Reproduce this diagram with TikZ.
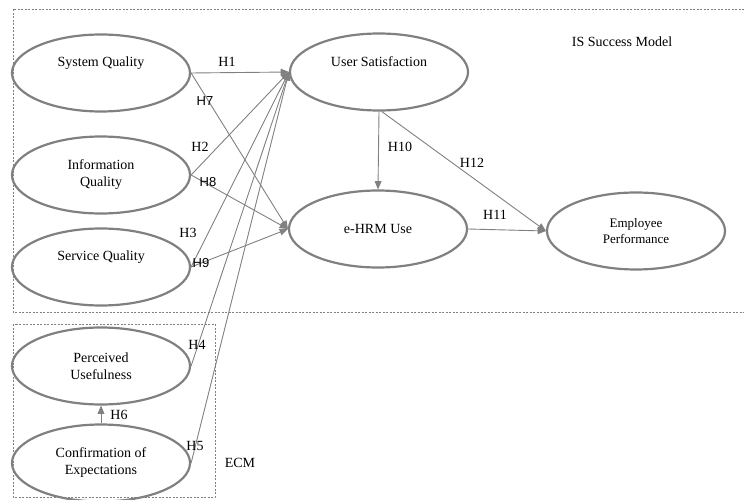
\documentclass[tikz,border=0pt]{standalone}
\usepackage{fontspec}
\setmainfont{Liberation Serif}
\newfontfamily\hsans{Liberation Sans}
\usetikzlibrary{arrows,shapes.geometric,positioning}

\begin{document}
\begin{tikzpicture}[x=1pt,y=-1pt,
        construct/.style={ellipse,draw=gray,line width=2.2pt,minimum width=178pt,minimum height=77pt,inner sep=0pt,align=center,font=\fontsize{14}{17}\selectfont},
        link/.style={draw=gray,line width=0.9pt,-triangle 45},
        hyp/.style={inner sep=0pt,font=\fontsize{14}{17}\selectfont},
        frame/.style={draw=gray,line width=0.6pt,dash pattern=on 2pt off 1.5pt}]
        \useasboundingbox (0,0) rectangle (744,500);
        \draw[frame] (744,9) -- (13,9) -- (13,312) -- (744,312);
        \draw[frame] (13,324) rectangle (215,497);
        \node[hyp] (ism) at (622,42) {IS Success Model};
        \node[hyp] (ecm) at (240,463) {ECM};

        \node[construct] (sq) at (101,73) {System Quality\\[5pt]};
        \node[construct] (iq) at (101,175) {Information\\Quality};
        \node[construct] (svq) at (101,267) {Service Quality\\[5pt]};
        \node[construct] (pu) at (101,366) {Perceived\\Usefulness};
        \node[construct] (ce) at (101,463) {Confirmation of\\Expectations};
        \node[construct] (us) at (379,72) {User Satisfaction\\[4pt]};
        \node[construct] (eu) at (378,229) {e-HRM Use};
        \node[construct,font=\fontsize{13}{16}\selectfont] (ep) at (636,231) {Employee\\Performance};

        \draw[link] (sq.east) -- (us.west);
        \draw[link] (sq.east) -- (eu.west);
        \draw[link] (iq.east) -- (us.west);
        \draw[link] (iq.east) -- (eu.west);
        \draw[link] (svq.east) -- (us.west);
        \draw[link] (svq.east) -- (eu.west);
        \draw[link] (pu.east) -- (us.west);
        \draw[link] (ce.east) -- (us.west);
        \draw[link] (ce.north) -- (pu.south);
        \draw[link] (us.south) -- (eu.north);
        \draw[link] (us.-86) -- (ep.west);
        \draw[link] (eu.east) -- (ep.west);

        \node[hyp] (h1) at (227,62) {H1};
        \node[hyp,font=\hsans\fontsize{13}{15}\selectfont] (h7) at (205,101) {H7};
        \node[hyp] (h2) at (200,147) {H2};
        \node[hyp,font=\hsans\fontsize{13}{15}\selectfont] (h8) at (208,182) {H8};
        \node[hyp] (h3) at (188,233) {H3};
        \node[hyp,font=\hsans\fontsize{13}{15}\selectfont] (h9) at (201,263) {H9};
        \node[hyp] (h4) at (197,345) {H4};
        \node[hyp] (h6) at (119,415) {H6};
        \node[hyp] (h5) at (195,446) {H5};
        \node[hyp] (h10) at (400,147) {H10};
        \node[hyp] (h12) at (472,163) {H12};
        \node[hyp] (h11) at (495,215) {H11};
\end{tikzpicture}
\end{document}
